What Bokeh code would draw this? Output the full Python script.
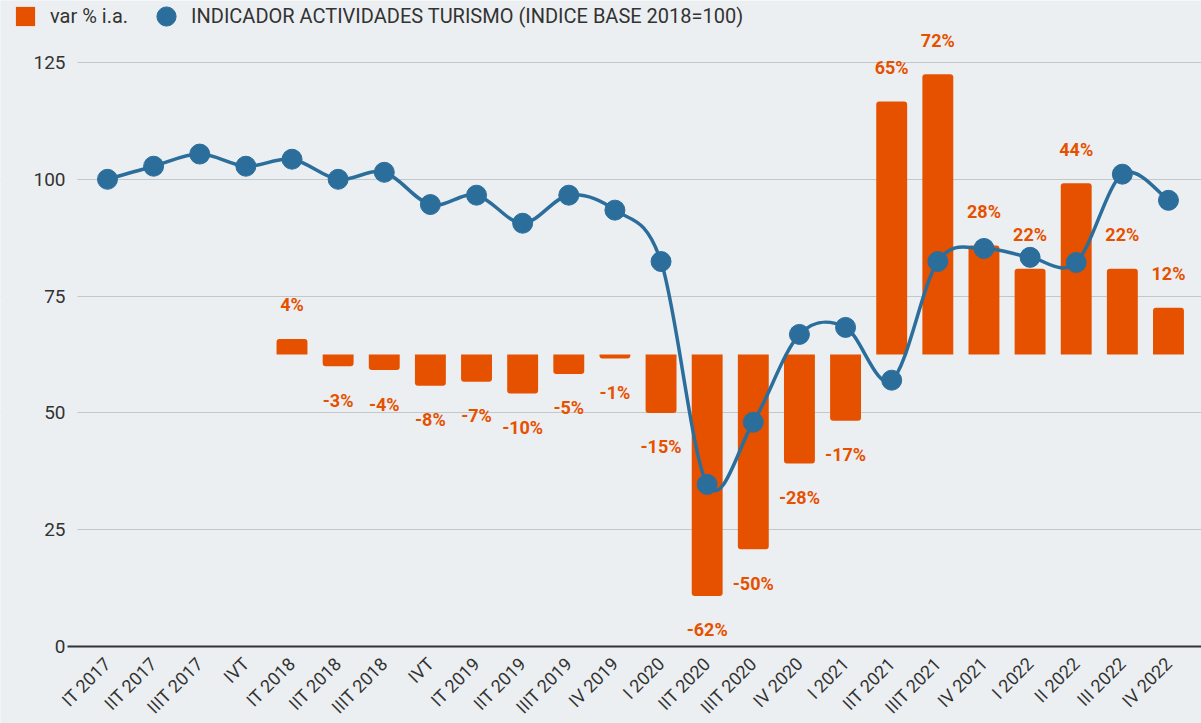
import math
import numpy as np
from bokeh.plotting import figure
from bokeh.models import (ColumnDataSource, Range1d, FixedTicker, Legend,
                          LegendItem, BoxAnnotation)
from bokeh.core.properties import value
from bokeh.embed import file_html
from bokeh.resources import INLINE

# ---------------- data ----------------
categories = ["IT 2017", "IIT 2017", "IIIT 2017", "IVT", "IT 2018", "IIT 2018",
              "IIIT 2018", "IVT", "IT 2019", "IIT 2019", "IIIT 2019", "IV 2019",
              "I 2020", "IIT 2020", "IIIT 2020", "IV 2020", "I 2021", "IIT 2021",
              "IIIT 2021", "IV 2021", "I 2022", "II 2022", "III 2022", "IV 2022"]
index_values = [100.0, 102.8, 105.4, 102.8, 104.3, 100.0, 101.5, 94.6, 96.6,
                90.6, 96.6, 93.4, 82.4, 34.7, 48.0, 66.8, 68.3, 57.0, 82.4,
                85.2, 83.3, 82.2, 101.1, 95.5]
var_values = [4, -3, -4, -8, -7, -10, -5, -1, -15, -62, -50, -28, -17, 65, 72,
              28, 22, 44, 22, 12]
y_ticks = [0, 25, 50, 75, 100, 125]

# ---------------- styling / layout ----------------
ORANGE = "#E65100"
BLUE = "#2B6E9C"
BG = "#ECEFF1"
TXT = "#333333"
FONT = "Roboto"

W, H = 1201, 723
ZERO_PX = 646                     # pixel row of value 0
PX_PER_UNIT = 584 / 125.0
Y_MIN = -(H - ZERO_PX) / PX_PER_UNIT
Y_MAX = ZERO_PX / PX_PER_UNIT
PCT_PER_UNIT = 150 / 125.0
PCT_AT_ZERO = -75
STEP_PX = 46.13
AXIS_PX = 77
AXIS_X = -0.65
X_START = AXIS_X - AXIS_PX / STEP_PX
X_END = X_START + W / STEP_PX
BASE_X = X_START + 67 / STEP_PX

n = len(categories)
xs = np.arange(n)
var_x = xs[n - len(var_values):]

p = figure(width=W, height=H, output_backend="svg", toolbar_location=None,
           x_range=Range1d(X_START, X_END), y_range=Range1d(Y_MIN, Y_MAX),
           min_border_left=0, min_border_right=0,
           min_border_top=0, min_border_bottom=0)
p.extra_y_ranges = {"pct": Range1d(PCT_AT_ZERO + Y_MIN * PCT_PER_UNIT,
                                   PCT_AT_ZERO + Y_MAX * PCT_PER_UNIT)}
p.background_fill_color = BG
p.border_fill_color = BG
p.outline_line_color = None

# grid (masked left of the value axis)
p.xgrid.visible = False
p.ygrid.ticker = FixedTicker(ticks=y_ticks)
p.ygrid.grid_line_color = "#C4C7C9"
p.ygrid.grid_line_width = 1
p.add_layout(BoxAnnotation(left=X_START, right=AXIS_X, fill_color=BG,
                           fill_alpha=1, line_color=None, level="underlay"))

# bars (secondary, hidden axis)
pos = [(x, v) for x, v in zip(var_x, var_values) if v >= 0]
neg = [(x, v) for x, v in zip(var_x, var_values) if v < 0]
src_pos = ColumnDataSource(dict(x=[a for a, _ in pos], top=[b for _, b in pos]))
src_neg = ColumnDataSource(dict(x=[a for a, _ in neg], top=[b for _, b in neg]))
bar_pos = p.vbar(x="x", top="top", bottom=0, width=0.67, source=src_pos,
                 y_range_name="pct", fill_color=ORANGE, line_color=None,
                 border_radius=(3, 3, 0, 0))
bar_neg = p.vbar(x="x", top="top", bottom=0, width=0.67, source=src_neg,
                 y_range_name="pct", fill_color=ORANGE, line_color=None,
                 border_radius=(0, 0, 3, 3))

# bar labels
lab_src = ColumnDataSource(dict(
    x=list(var_x), y=var_values,
    text=[f"{v}%" for v in var_values],
    off=[-34 if v >= 0 else 34 for v in var_values]))
p.text(x="x", y="y", text="text", y_offset="off", source=lab_src,
       y_range_name="pct", text_align="center", text_baseline="middle",
       text_font=value(FONT), text_font_style="bold", text_font_size="18px",
       text_color=ORANGE)

# smooth line (Catmull-Rom -> cubic bezier)
yv = np.array(index_values)
xv = xs.astype(float)
def prev(a, i):
    return a[max(i - 1, 0)]
def nxt(a, i):
    return a[min(i + 1, len(a) - 1)]
x0 = xv[:-1]; y0 = yv[:-1]; x1 = xv[1:]; y1 = yv[1:]
cx0 = [xv[i] + (nxt(xv, i) - prev(xv, i)) / 6 for i in range(n - 1)]
cy0 = [yv[i] + (nxt(yv, i) - prev(yv, i)) / 6 for i in range(n - 1)]
cx1 = [xv[i + 1] - (nxt(xv, i + 1) - prev(xv, i + 1)) / 6 for i in range(n - 1)]
cy1 = [yv[i + 1] - (nxt(yv, i + 1) - prev(yv, i + 1)) / 6 for i in range(n - 1)]
p.bezier(x0=x0, y0=y0, x1=x1, y1=y1, cx0=cx0, cy0=cy0, cx1=cx1, cy1=cy1,
         line_color=BLUE, line_width=3.5)
dots = p.ellipse(x=xv, y=yv, width=20, height=20, width_units="screen",
                 height_units="screen", fill_color=BLUE, line_color=BLUE)

# axes (fixed inside the frame)
p.yaxis.fixed_location = AXIS_X
p.yaxis.ticker = FixedTicker(ticks=y_ticks)
p.yaxis.axis_line_color = None
p.yaxis.major_tick_line_color = None
p.yaxis.minor_tick_line_color = None
p.yaxis.major_label_standoff = 6
p.yaxis.major_label_text_font = FONT
p.yaxis.major_label_text_font_size = "19px"
p.yaxis.major_label_text_color = TXT

p.xaxis.fixed_location = 0
p.xaxis.ticker = FixedTicker(ticks=list(range(n)))
p.xaxis.bounds = (BASE_X, X_END)
p.xaxis.major_label_overrides = {i: c for i, c in enumerate(categories)}
p.xaxis.major_label_orientation = math.pi / 4
p.xaxis.axis_line_color = "#333333"
p.xaxis.axis_line_width = 2
p.xaxis.major_tick_line_color = None
p.xaxis.minor_tick_line_color = None
p.xaxis.major_label_standoff = 8
p.xaxis.major_label_text_font = FONT
p.xaxis.major_label_text_font_size = "18px"
p.xaxis.major_label_text_color = TXT

# legend
legend = Legend(items=[LegendItem(label="var % i.a.", renderers=[bar_pos]),
                       LegendItem(label="INDICADOR ACTIVIDADES TURISMO (INDICE BASE 2018=100)",
                                  renderers=[dots])],
                location=(13, H - 28), orientation="horizontal",
                glyph_width=24, glyph_height=24, label_standoff=13,
                spacing=26, padding=0, margin=0,
                border_line_color=None, background_fill_alpha=0,
                label_text_font=FONT, label_text_font_size="20px",
                label_text_color=TXT)
p.add_layout(legend)

open("out.html", "w").write(file_html(p, INLINE))
